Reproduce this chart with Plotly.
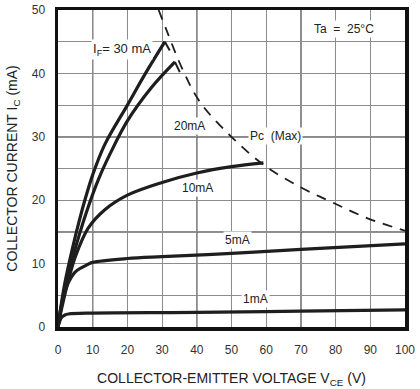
import plotly.graph_objects as go

# ---- data ----
v_30 = [0, 1, 2, 4, 6, 8, 10, 13.5, 20, 25, 30.8]
i_30 = [0, 3.8, 7, 12, 16.5, 20.5, 24, 28.8, 35, 39.8, 45.0]
cap30_v = [30.8, 32.2]
cap30_i = [45.0, 43.6]

v_20 = [0, 1, 2, 4, 6, 8, 11.6, 15, 20, 27, 33.7]
i_20 = [0, 3.3, 6, 10.5, 14.3, 17.8, 23.2, 27.3, 32.5, 37.8, 41.8]
cap20_v = [33.7, 35.1]
cap20_i = [41.8, 40.2]

v_10 = [0, 1, 2, 3, 5, 8.7, 13.5, 20, 30, 40, 50, 59.2]
i_10 = [0, 2.8, 5.2, 7.4, 11.1, 15.6, 18.5, 20.8, 22.8, 24.3, 25.3, 25.9]

v_5 = [0, 1, 2, 3, 5, 8.7, 10, 20, 30, 50, 70, 100]
i_5 = [0, 3.5, 5.5, 7.0, 8.7, 9.9, 10.2, 10.8, 11.1, 11.6, 12.25, 13.1]

v_1 = [0, 0.5, 1, 2, 3, 10, 40, 70, 100]
i_1 = [0, 0.9, 1.5, 1.9, 2.05, 2.2, 2.3, 2.5, 2.7]

v_pc = [29, 31.5, 35.6, 40.9, 49.6, 59.2, 69.7, 79.3, 89.4, 100]
i_pc = [50, 46.5, 41.0, 35.5, 30.2, 25.6, 22.1, 19.6, 17.1, 15.2]

x_ticks = [0, 10, 20, 30, 40, 50, 60, 70, 80, 90, 100]
y_ticks = [0, 10, 20, 30, 40, 50]
dark_v = [10, 40, 70]
dark_i = [15, 30]

FONT = "Liberation Sans, Arial, sans-serif"
LC = "#1e1e1e"
GRID = "#8c8c8c"

fig = go.Figure()

def curve(v, i, w=3.2, dash="solid", shape="spline"):
    fig.add_trace(go.Scatter(x=v, y=i, mode="lines",
                             line=dict(color=LC, width=w, dash=dash, shape=shape, smoothing=1.0),
                             hoverinfo="skip", showlegend=False, cliponaxis=True))

curve(v_pc, i_pc, w=1.8, dash="10px,8px")
curve(v_30, i_30)
curve(cap30_v, cap30_i, w=2, shape="linear")
curve(v_20, i_20)
curve(cap20_v, cap20_i, w=2, shape="linear")
curve(v_10, i_10)
curve(v_5, i_5)
curve(v_1, i_1)

# darker grid lines
for v in dark_v:
    fig.add_shape(type="line", x0=v, x1=v, y0=0, y1=50, xref="x", yref="y",
                  line=dict(color="#222", width=1.2), layer="below")
for i in dark_i:
    fig.add_shape(type="line", x0=0, x1=100, y0=i, y1=i, xref="x", yref="y",
                  line=dict(color="#222", width=1.2), layer="below")

def label(text, x, y, bg=True, size=12):
    fig.add_annotation(x=x, y=y, text=text, showarrow=False, xref="x", yref="y",
                       font=dict(family=FONT, size=size, color="#222"),
                       bgcolor="white" if bg else "rgba(0,0,0,0)", borderpad=1)

label("I<sub>F</sub>= 30 mA", 18.4, 43.7, size=13)
label("20mA", 37.8, 31.7)
label("Pc  (Max)", 62.8, 30.1)
label("10mA", 40.1, 21.9)
label("5mA", 51.6, 13.7)
label("1mA", 56.8, 4.4)
label("Ta  =  25°C", 82.4, 47.0)

fig.update_layout(
    width=420, height=389,
    margin=dict(l=58, r=15, t=10, b=62),
    paper_bgcolor="white", plot_bgcolor="white",
    font=dict(family=FONT, size=12, color="#333"),
    xaxis=dict(range=[0, 100], tickvals=x_ticks, showgrid=True, gridcolor=GRID, gridwidth=1,
               zeroline=False, showline=True, mirror=True, linecolor="#111", linewidth=3.5,
               ticks="", ticklabelstandoff=9, tickfont=dict(size=12, color="#333"),
               automargin=False,
               title=dict(text="COLLECTOR-EMITTER VOLTAGE V<sub>CE</sub> (V)",
                          font=dict(size=14, color="#222"), standoff=18)),
    yaxis=dict(range=[0, 50], tickvals=y_ticks, showgrid=True, gridcolor=GRID, gridwidth=1,
               minor=dict(dtick=5, showgrid=True, gridcolor=GRID, gridwidth=1),
               zeroline=False, showline=True, mirror=True, linecolor="#111", linewidth=3.5,
               ticks="", ticklabelstandoff=7, tickfont=dict(size=12, color="#333"),
               automargin=False,
               title=dict(text="COLLECTOR CURRENT I<sub>C</sub> (mA)",
                          font=dict(size=14, color="#222"), standoff=12)),
)

fig.write_html("out.html", config={"displayModeBar": False, "staticPlot": True},
               post_script="document.body.style.margin='0';document.body.style.overflow='hidden';")
